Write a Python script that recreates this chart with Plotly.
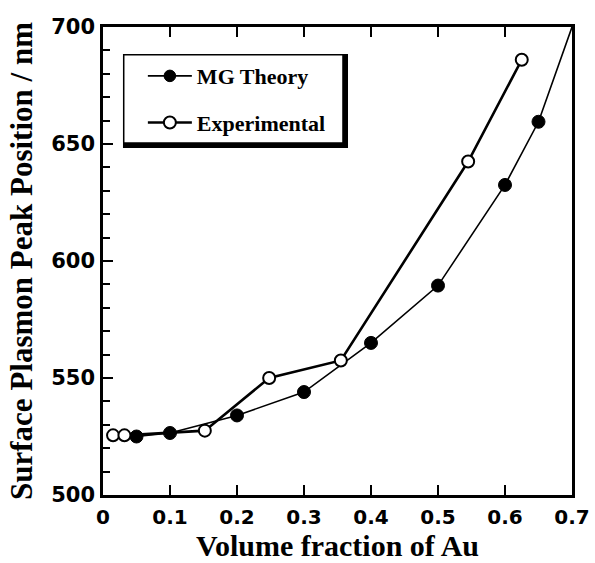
import plotly.graph_objects as go

mg_x = [0.05, 0.10, 0.20, 0.30, 0.40, 0.50, 0.60, 0.65, 0.70]
mg_y = [525.0, 526.5, 534.0, 544.0, 565.0, 589.5, 632.5, 659.5, 700.0]
mg_marker = [True, True, True, True, True, True, True, True, False]

exp_x = [0.015, 0.032, 0.152, 0.248, 0.355, 0.545, 0.625]
exp_y = [525.5, 525.5, 527.5, 550.0, 557.5, 642.5, 686.0]

x_ticks = [0, 0.1, 0.2, 0.3, 0.4, 0.5, 0.6, 0.7]
x_labels = ["0", "0.1", "0.2", "0.3", "0.4", "0.5", "0.6", "0.7"]
y_ticks = [500, 550, 600, 650, 700]

fig = go.Figure()
fig.add_trace(go.Scatter(
    x=mg_x, y=mg_y, mode="lines+markers", name="MG Theory", legendgroup="a",
    line=dict(color="black", width=1.6),
    marker=dict(symbol="circle", color="black", opacity=1,
                size=[13 if m else 0 for m in mg_marker],
                line=dict(color="black", width=1)),
))
fig.add_trace(go.Scatter(
    x=exp_x, y=exp_y, mode="lines+markers", name="Experimental", legendgroup="b",
    line=dict(color="black", width=2.6),
    marker=dict(symbol="circle", color="white", size=12, opacity=1,
                line=dict(color="black", width=2)),
))

# legend frame with drop shadow
fig.add_shape(type="rect", xref="paper", yref="paper",
              x0=0.0426, x1=0.5224, y0=0.7415, y1=0.9423,
              fillcolor="black", line=dict(width=0), layer="above")
fig.add_shape(type="rect", xref="paper", yref="paper",
              x0=0.0442, x1=0.5117, y0=0.7521, y1=0.9407,
              fillcolor="white", line=dict(color="black", width=1.5), layer="above")

serif = "Liberation Serif"
sans = "DejaVu Sans"

fig.update_layout(
    width=595, height=563,
    margin=dict(l=103, r=23, t=27, b=68, autoexpand=False),
    paper_bgcolor="white", plot_bgcolor="white",
    showlegend=True,
    legend=dict(x=0.085, y=0.940, xanchor="left", yanchor="top",
                bgcolor="rgba(0,0,0,0)", borderwidth=0,
                font=dict(family=serif, size=22, color="black", weight="bold"),
                itemwidth=44, tracegroupgap=15),
    xaxis=dict(range=[0, 0.7], tickvals=x_ticks, ticktext=x_labels,
               ticks="inside", ticklen=10, tickwidth=2, tickcolor="black",
               showline=True, linecolor="black", linewidth=2.5,
               mirror="ticks", showgrid=False, zeroline=False, automargin=False,
               ticklabelstandoff=2,
               tickfont=dict(family=sans, size=20, color="black", weight="bold"),
               title=dict(text="Volume fraction of Au", standoff=8,
                          font=dict(family=serif, size=30, color="black", weight="bold"))),
    yaxis=dict(range=[500, 700], tickvals=y_ticks,
               ticks="inside", ticklen=10, tickwidth=2, tickcolor="black",
               minor=dict(dtick=10, ticks="inside", ticklen=7, tickwidth=2, tickcolor="black"),
               showline=True, linecolor="black", linewidth=2.5,
               mirror=True, showgrid=False, zeroline=False, automargin=False,
               ticklabelstandoff=1,
               tickfont=dict(family=sans, size=21, color="black", weight="bold"),
               title=dict(text="Surface Plasmon Peak Position / nm", standoff=10,
                          font=dict(family=serif, size=31, color="black", weight="bold"))),
)

fig.write_html("out.html")
